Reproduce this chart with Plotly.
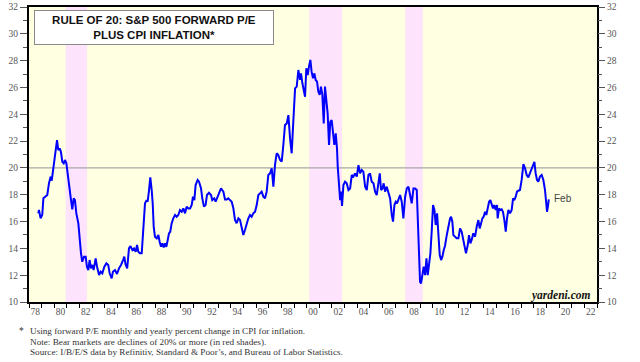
import plotly.graph_objects as go

# ---------------- data ----------------
years = [
    1978.74, 1978.79, 1978.92, 1979.05, 1979.14, 1979.32, 1979.45, 1979.58, 1979.72, 1979.80,
    1979.90, 1980.06, 1980.22, 1980.32, 1980.43, 1980.53, 1980.64, 1980.75, 1980.85, 1980.96,
    1981.06, 1981.17, 1981.33, 1981.43, 1981.54, 1981.64, 1981.75, 1981.91, 1982.01, 1982.12,
    1982.22, 1982.36, 1982.49, 1982.59, 1982.70, 1982.80, 1982.91, 1983.02, 1983.12, 1983.28,
    1983.39, 1983.55, 1983.68, 1983.81, 1983.97, 1984.13, 1984.28, 1984.39, 1984.55, 1984.65,
    1984.81, 1984.97, 1985.13, 1985.29, 1985.45, 1985.55, 1985.65, 1985.78, 1985.92, 1986.04,
    1986.19, 1986.32, 1986.45, 1986.56, 1986.66, 1986.79, 1986.93, 1987.06, 1987.19, 1987.32,
    1987.40, 1987.51, 1987.61, 1987.72, 1987.80, 1987.88, 1987.98, 1988.12, 1988.25, 1988.35,
    1988.46, 1988.56, 1988.67, 1988.77, 1988.88, 1988.99, 1989.09, 1989.19, 1989.30, 1989.43,
    1989.57, 1989.70, 1989.83, 1989.96, 1990.10, 1990.23, 1990.36, 1990.49, 1990.62, 1990.76,
    1990.89, 1990.99, 1991.10, 1991.20, 1991.36, 1991.47, 1991.63, 1991.73, 1991.86, 1991.99,
    1992.10, 1992.26, 1992.42, 1992.52, 1992.68, 1992.79, 1992.89, 1993.05, 1993.21, 1993.40,
    1993.53, 1993.66, 1993.79, 1993.92, 1994.06, 1994.19, 1994.32, 1994.45, 1994.59, 1994.72,
    1994.85, 1994.98, 1995.11, 1995.25, 1995.38, 1995.51, 1995.64, 1995.77, 1995.91, 1996.04,
    1996.17, 1996.30, 1996.43, 1996.57, 1996.70, 1996.83, 1996.96, 1997.10, 1997.23, 1997.36,
    1997.49, 1997.62, 1997.75, 1997.89, 1998.02, 1998.15, 1998.28, 1998.42, 1998.55, 1998.68,
    1998.81, 1998.94, 1999.08, 1999.21, 1999.34, 1999.47, 1999.55, 1999.66, 1999.76, 1999.87,
    1999.97, 2000.08, 2000.18, 2000.29, 2000.39, 2000.50, 2000.61, 2000.71, 2000.82, 2000.92,
    2001.03, 2001.13, 2001.24, 2001.35, 2001.45, 2001.56, 2001.66, 2001.77, 2001.87, 2001.98,
    2002.11, 2002.19, 2002.30, 2002.40, 2002.46, 2002.57, 2002.65, 2002.73, 2002.80, 2002.91,
    2003.04, 2003.17, 2003.31, 2003.44, 2003.57, 2003.70, 2003.83, 2003.97, 2004.10, 2004.23,
    2004.36, 2004.49, 2004.63, 2004.76, 2004.89, 2005.02, 2005.15, 2005.29, 2005.42, 2005.55,
    2005.68, 2005.79, 2005.89, 2006.00, 2006.10, 2006.21, 2006.34, 2006.47, 2006.61, 2006.74,
    2006.84, 2006.95, 2007.06, 2007.16, 2007.27, 2007.40, 2007.53, 2007.66, 2007.80, 2007.93,
    2008.06, 2008.19, 2008.32, 2008.46, 2008.59, 2008.72, 2008.80, 2008.90, 2008.98, 2009.06,
    2009.17, 2009.27, 2009.38, 2009.49, 2009.59, 2009.70, 2009.80, 2009.91, 2010.01, 2010.12,
    2010.22, 2010.33, 2010.44, 2010.54, 2010.65, 2010.75, 2010.86, 2010.96, 2011.10, 2011.22,
    2011.36, 2011.44, 2011.54, 2011.62, 2011.75, 2011.88, 2012.02, 2012.15, 2012.28, 2012.41,
    2012.54, 2012.62, 2012.76, 2012.86, 2012.97, 2013.07, 2013.20, 2013.34, 2013.47, 2013.60,
    2013.71, 2013.81, 2013.92, 2014.02, 2014.13, 2014.23, 2014.34, 2014.45, 2014.55, 2014.66,
    2014.76, 2014.87, 2014.97, 2015.08, 2015.13, 2015.24, 2015.34, 2015.45, 2015.55, 2015.66,
    2015.77, 2015.87, 2015.98, 2016.11, 2016.24, 2016.35, 2016.45, 2016.56, 2016.66, 2016.77,
    2016.90, 2017.03, 2017.17, 2017.30, 2017.43, 2017.56, 2017.69, 2017.83, 2017.93, 2018.04,
    2018.14, 2018.25, 2018.35, 2018.48, 2018.62, 2018.75, 2018.88, 2018.97, 2019.04, 2019.11,
    2019.18,
]
pe_plus_cpi = [
    16.61, 16.86, 16.24, 16.50, 17.73, 17.90, 17.98, 18.85, 19.35, 19.05,
    19.84, 21.08, 22.08, 21.33, 21.46, 21.20, 20.46, 20.34, 20.59, 20.34,
    19.47, 18.72, 17.60, 16.91, 17.73, 17.60, 16.61, 15.86, 14.62, 13.63,
    13.00, 13.38, 13.38, 12.63, 12.38, 13.13, 12.51, 12.76, 12.38, 13.25,
    12.63, 12.01, 12.26, 12.14, 12.63, 12.88, 12.76, 12.14, 11.76, 12.26,
    12.38, 12.09, 12.51, 12.76, 13.13, 13.38, 12.80, 12.51, 14.00, 14.17,
    13.88, 14.00, 13.75, 14.25, 13.75, 13.63, 13.63, 15.62, 17.36, 17.60,
    17.48, 18.35, 19.30, 18.35, 17.36, 15.62, 14.87, 14.75, 15.00, 14.50,
    14.12, 14.37, 14.07, 14.37, 14.12, 14.62, 15.12, 15.24, 15.86, 16.24,
    16.49, 16.36, 16.49, 16.86, 16.73, 16.98, 16.61, 17.11, 16.98, 16.98,
    17.23, 17.85, 17.60, 18.72, 19.10, 18.97, 18.47, 17.73, 17.11, 17.23,
    17.98, 18.15, 17.98, 17.60, 17.73, 17.48, 17.73, 18.22, 18.47, 18.22,
    17.65, 17.65, 17.73, 17.60, 17.48, 16.99, 16.12, 15.87, 16.24, 16.12,
    15.62, 15.00, 15.37, 15.87, 16.24, 16.49, 16.36, 16.61, 16.74, 17.23,
    17.98, 18.10, 18.23, 17.86, 17.73, 18.23, 19.47, 19.60, 19.97, 18.60,
    20.22, 21.09, 20.96, 20.59, 20.47, 21.71, 23.20, 23.32, 23.94, 22.20,
    21.09, 23.45, 25.93, 26.06, 27.30, 26.56, 27.05, 26.31, 25.93, 25.31,
    27.43, 26.93, 27.55, 28.05, 27.18, 26.68, 27.05, 26.56, 26.43, 25.69,
    25.44, 26.06, 25.44, 23.32, 26.06, 24.94, 24.07, 21.71, 23.45, 23.57,
    22.45, 21.71, 22.58, 21.46, 20.09, 18.35, 17.60, 18.23, 17.16, 18.72,
    18.97, 18.85, 18.35, 18.47, 19.47, 19.35, 19.59, 19.35, 20.21, 19.59,
    19.84, 19.72, 18.60, 18.35, 19.47, 19.59, 18.97, 18.85, 18.23, 17.98,
    18.97, 19.59, 18.35, 18.47, 18.85, 18.23, 18.60, 18.23, 17.73, 16.49,
    15.99, 17.23, 17.48, 17.36, 17.73, 17.98, 17.48, 16.24, 17.85, 18.47,
    18.60, 17.98, 17.36, 18.47, 18.47, 18.35, 16.11, 13.38, 11.51, 11.39,
    12.01, 12.63, 12.01, 13.25, 12.01, 13.13, 13.63, 15.37, 17.23, 16.86,
    15.74, 16.61, 14.37, 13.50, 13.13, 13.38, 13.88, 14.20, 15.00, 15.62,
    16.24, 16.36, 15.99, 14.99, 14.87, 14.75, 14.75, 15.49, 15.24, 14.50,
    13.75, 13.63, 14.25, 14.99, 14.37, 14.62, 15.12, 14.87, 15.62, 16.11,
    15.49, 15.86, 16.24, 16.36, 16.73, 16.49, 17.11, 17.48, 17.60, 17.23,
    16.98, 17.23, 16.86, 17.23, 16.24, 16.98, 16.86, 16.91, 16.73, 16.11,
    15.24, 16.24, 16.86, 16.61, 16.86, 17.73, 17.60, 17.85, 18.23, 18.30,
    18.35, 19.10, 20.29, 19.97, 19.47, 19.30, 19.59, 19.97, 20.21, 20.46,
    19.59, 19.10, 18.97, 19.35, 19.47, 19.10, 18.35, 17.36, 16.73, 17.11,
    17.65,
]

bear_start = [1980.9, 2000.2, 2007.8]
bear_end = [1982.6, 2002.8, 2009.2]

x_tick_years = list(range(1978, 2023, 2))
x_tick_labels = [f"{y % 100:02d}" for y in x_tick_years]
y_ticks = list(range(10, 33, 2))
y_minor = list(range(11, 32, 2))

title_text = "<b>RULE OF 20: S&amp;P 500 FORWARD P/E<br>PLUS CPI INFLATION*</b>"
last_label = "Feb"
notes = [
    "Using forward P/E monthly and yearly percent change in CPI for inflation.",
    "Note: Bear markets are declines of 20% or more (in red shades).",
    "Source: I/B/E/S data by Refinitiv, Standard &amp; Poor\u2019s, and Bureau of Labor Statistics.",
]

# ---------------- layout geometry ----------------
W, H = 640, 362
ML, MR, MT, MB = 29, 43, 7, 60
PW = W - ML - MR
PH = H - MT - MB


def px_x(px):
    return (px - ML) / PW


def px_y(py):
    return (H - MB - py) / PH


serif = "Liberation Serif, Times New Roman, serif"
sans = "Liberation Sans, Arial, sans-serif"
tick_font = dict(family=serif, size=9.5, color="#555555")

fig = go.Figure()
fig.add_trace(go.Scatter(
    x=years, y=pe_plus_cpi, mode="lines",
    line=dict(color="#0000FF", width=2),
    showlegend=False, hoverinfo="x+y",
))
fig.add_trace(go.Scatter(
    x=years, y=pe_plus_cpi, mode="lines", yaxis="y2",
    line=dict(color="rgba(0,0,0,0)", width=0),
    showlegend=False, hoverinfo="skip",
))

shapes = []
for s, e in zip(bear_start, bear_end):
    shapes.append(dict(type="rect", xref="x", yref="paper", x0=s, x1=e, y0=0, y1=1,
                       fillcolor="#FDE3FB", line=dict(width=0), layer="below"))
shapes.append(dict(type="line", xref="paper", yref="y", x0=0, x1=1, y0=20, y1=20,
                   line=dict(color="#A8A8A8", width=1.2), layer="below"))

annotations = [
    dict(xref="paper", yref="paper", x=px_x(154), y=px_y(27.5), xanchor="center", yanchor="middle",
         text=title_text, showarrow=False, align="center",
         font=dict(family=sans, size=11.5, color="#111111"),
         bgcolor="white", bordercolor="#8A8A8A", borderwidth=1, borderpad=0,
         width=238, height=33),
    dict(xref="x", yref="y", x=2019.42, y=17.7, xanchor="left", yanchor="middle",
         text=last_label, showarrow=False, font=dict(family=sans, size=10, color="#444444")),
    dict(xref="paper", yref="paper", x=px_x(593), y=px_y(295.5), xanchor="right", yanchor="middle",
         text="<b><i>yardeni.com</i></b>", showarrow=False,
         font=dict(family=serif, size=11.5, color="#111111")),
    dict(xref="paper", yref="paper", x=px_x(17), y=px_y(331), xanchor="left", yanchor="middle",
         text="*", showarrow=False, font=dict(family=serif, size=9.5, color="#333333")),
]
for i, (t, cy) in enumerate(zip(notes, [331.0, 341.5, 352.0])):
    annotations.append(dict(xref="paper", yref="paper", x=px_x(28), y=px_y(cy),
                            xanchor="left", yanchor="middle", text=t, showarrow=False,
                            font=dict(family=serif, size=9.2, color="#333333")))

yaxis_common = dict(
    range=[10, 32], tickmode="array", tickvals=y_ticks, ticks="outside", ticklen=7,
    tickcolor="#555555", tickwidth=1, showgrid=False, zeroline=False,
    tickfont=tick_font, automargin=False, fixedrange=True,
    minor=dict(tickmode="array", tickvals=y_minor, ticks="outside", ticklen=4,
               tickcolor="#555555", tickwidth=1, showgrid=False),
)

fig.update_layout(
    width=W, height=H,
    margin=dict(l=ML, r=MR, t=MT, b=MB, pad=0),
    paper_bgcolor="white", plot_bgcolor="#FFFFE1",
    shapes=shapes, annotations=annotations,
    xaxis=dict(
        range=[1978, 2023], tickmode="array",
        tickvals=[y + 0.5 for y in x_tick_years], ticktext=x_tick_labels,
        ticks="outside", ticklen=0, tickcolor="black",
        showline=True, mirror=True, linecolor="black", linewidth=2,
        showgrid=False, zeroline=False, tickfont=tick_font, automargin=False,
        fixedrange=True,
        minor=dict(tickmode="array", tickvals=list(range(1978, 2024)), ticks="outside",
                   ticklen=4, tickcolor="black", tickwidth=1, showgrid=False),
    ),
    yaxis=dict(side="left", showline=True, mirror=True, linecolor="black", linewidth=2,
               **yaxis_common),
    yaxis2=dict(side="right", overlaying="y", showline=False, **yaxis_common),
    showlegend=False,
)

fig.write_html(
    "out.html",
    config={"displayModeBar": False},
    post_script="document.body.style.margin='0';document.body.style.padding='0';",
)
